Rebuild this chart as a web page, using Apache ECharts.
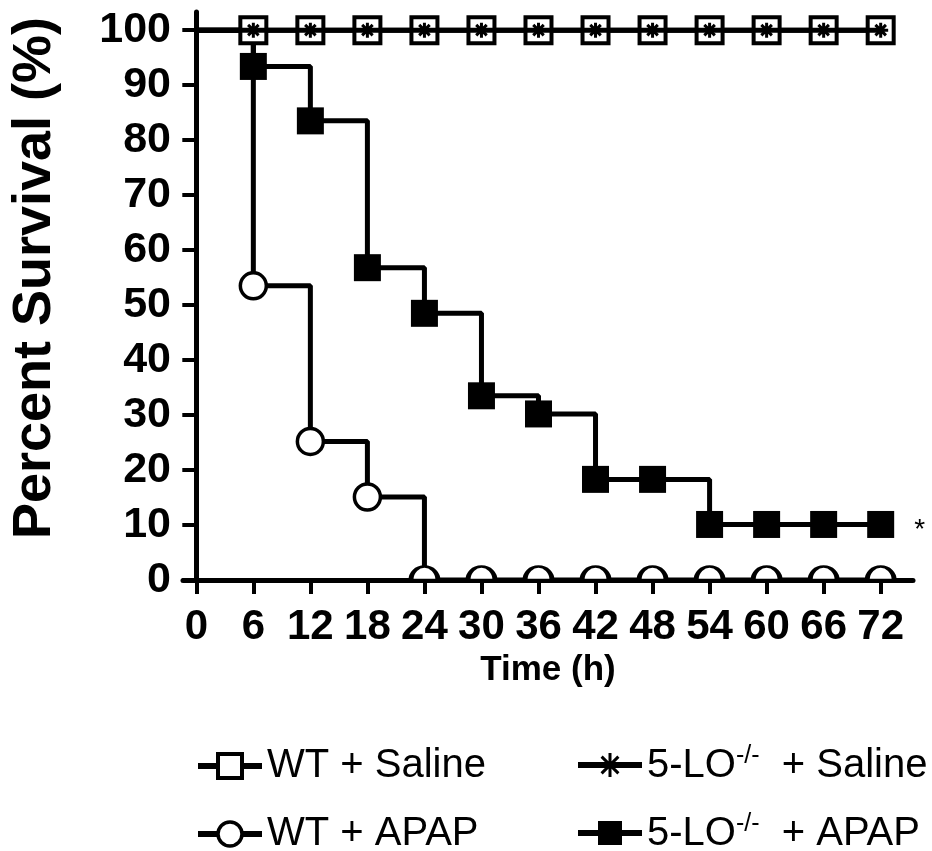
<!DOCTYPE html>
<html>
<head>
<meta charset="utf-8">
<script src="https://cdn.jsdelivr.net/npm/echarts@6/dist/echarts.min.js"></script>
<style>html,body{margin:0;padding:0;background:#fff}#c{width:932px;height:851px}</style>
</head>
<body>
<div id="c"></div>
<script>
// ---- data ----
const times = [0, 6, 12, 18, 24, 30, 36, 42, 48, 54, 60, 66, 72];
const wtSaline = [100, 100, 100, 100, 100, 100, 100, 100, 100, 100, 100, 100, 100];
const loSaline = [100, 100, 100, 100, 100, 100, 100, 100, 100, 100, 100, 100, 100];
const wtApap   = [100, 53.5, 25.2, 15.1, 0, 0, 0, 0, 0, 0, 0, 0, 0];
const loApap   = [100, 93.4, 83.5, 56.8, 48.5, 33.5, 30.2, 18.3, 18.3, 10.1, 10.1, 10.1, 10.1];
const xTicks = [0, 6, 12, 18, 24, 30, 36, 42, 48, 54, 60, 66, 72];
const yTicks = [0, 10, 20, 30, 40, 50, 60, 70, 80, 90, 100];
const seriesNames = ['WT + Saline', '5-LO-/- + Saline', 'WT + APAP', '5-LO-/- + APAP'];

const FONT = '"Liberation Sans", Arial, sans-serif';
const ASTER = 'path://M10,0 L10,20 M0,10 L20,10 M3,3 L17,17 M3,17 L17,3';
const HALF = 'path://M0,10 A10,10 0 0 1 20,10 Z';

function pts(vals, opts) {
  return times.map((t, i) => {
    const item = { value: [t, vals[i]] };
    if (i === 0) item.symbol = 'none';
    if (opts && opts.half && vals[i] === 0 && i > 0) {
      item.symbol = HALF;
      item.symbolSize = [27, 13.5];
      item.symbolOffset = [0, -6.75];
    }
    if (opts && opts.starLast && i === vals.length - 1) {
      item.label = { show: true, position: 'right', distance: 20, formatter: '*',
        fontSize: 28, color: '#000', fontFamily: FONT, offset: [0, 6] };
    }
    return item;
  });
}

const chart = echarts.init(document.getElementById('c'), null, { renderer: 'canvas' });

const legendText = {
  fontSize: 40, color: '#000', fontFamily: FONT, lineHeight: 30,
  rich: {
    sup: { fontSize: 25, fontFamily: FONT, color: '#000', verticalAlign: 'top', lineHeight: 22 },
    n: { fontSize: 40, fontFamily: FONT, color: '#000', lineHeight: 42, verticalAlign: 'bottom' }
  }
};
function fmt(name) {
  if (name.indexOf('-/-') >= 0) {
    const parts = name.split('-/-');
    return '{n|' + parts[0] + '}{sup|-/-}{n|  ' + parts[1].trim() + '}';
  }
  return name;
}
function mkLegend(name, left, top, itemStyle) {
  return { show: true, data: [name], left: left, top: top, itemWidth: 64, itemHeight: 30,
    formatter: fmt, textStyle: legendText, selectedMode: false, padding: 0,
    lineStyle: { color: '#000', width: 6 }, itemStyle: itemStyle };
}

chart.setOption({
  animation: false,
  backgroundColor: '#fff',
  grid: { left: 183, right: 19, top: 12, bottom: 271, containLabel: false, outerBoundsMode: 'none' },
  xAxis: {
    type: 'value', min: -1.4, max: 75.4,
    name: 'Time (h)', nameLocation: 'middle', nameGap: 68,
    nameTextStyle: { fontSize: 35, fontWeight: 'bold', color: '#000', fontFamily: FONT },
    axisLine: { show: true, lineStyle: { color: '#000', width: 5 } },
    axisTick: { show: true, customValues: xTicks, length: 14, lineStyle: { color: '#000', width: 4 } },
    axisLabel: { customValues: xTicks, fontSize: 42, fontWeight: 'bold', color: '#000', fontFamily: FONT, margin: 26 },
    splitLine: { show: false }
  },
  yAxis: {
    type: 'value', min: 0, max: 103.3,
    name: 'Percent Survival (%)', nameLocation: 'middle', nameGap: 121,
    nameTextStyle: { fontSize: 54, fontWeight: 'bold', color: '#000', fontFamily: FONT, padding: [0, 0, 0, 36] },
    axisLine: { show: true, onZero: true, lineStyle: { color: '#000', width: 5 } },
    axisTick: { show: true, customValues: yTicks, length: 14, lineStyle: { color: '#000', width: 4 } },
    axisLabel: { customValues: yTicks, fontSize: 43, fontWeight: 'bold', color: '#000', fontFamily: FONT, margin: 12 },
    splitLine: { show: false }
  },
  legend: [
    mkLegend(seriesNames[0], 195, 746, { color: '#fff', borderColor: '#000', borderWidth: 4 }),
    mkLegend(seriesNames[1], 575, 744, { color: '#000', borderColor: '#000', borderWidth: 3 }),
    mkLegend(seriesNames[2], 195, 814, { color: '#fff', borderColor: '#000', borderWidth: 3.5 }),
    mkLegend(seriesNames[3], 575, 812, { color: '#000', borderColor: '#000', borderWidth: 0 })
  ],
  series: [
    {
      name: seriesNames[2], type: 'line', step: 'end', clip: false, z: 2,
      data: pts(wtApap, { half: true }),
      symbol: 'circle', symbolSize: 26,
      lineStyle: { color: '#000', width: 5 },
      itemStyle: { color: '#fff', borderColor: '#000', borderWidth: 3.5 }
    },
    {
      name: seriesNames[3], type: 'line', step: 'end', clip: false, z: 3,
      data: pts(loApap, { starLast: true }),
      symbol: 'rect', symbolSize: 27,
      lineStyle: { color: '#000', width: 5 },
      itemStyle: { color: '#000', borderColor: '#000', borderWidth: 0 }
    },
    {
      name: seriesNames[0], type: 'line', step: 'end', clip: false, z: 4,
      data: pts(wtSaline),
      symbol: 'rect', symbolSize: 26,
      lineStyle: { color: '#000', width: 5 },
      itemStyle: { color: '#fff', borderColor: '#000', borderWidth: 4 }
    },
    {
      name: seriesNames[1], type: 'line', step: 'end', clip: false, z: 5,
      data: pts(loSaline),
      symbol: ASTER, symbolSize: 15,
      lineStyle: { color: '#000', width: 5 },
      itemStyle: { color: '#000', borderColor: '#000', borderWidth: 3 }
    }
  ]
});
</script>
</body>
</html>
